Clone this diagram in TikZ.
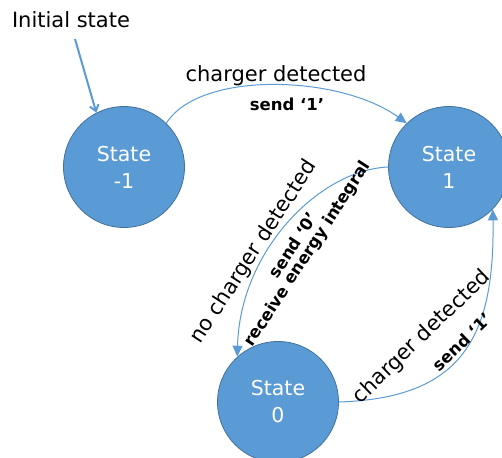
\documentclass[tikz,border=0pt]{standalone}
\usepackage{fontspec}
\setmainfont{DejaVu Sans}
\usetikzlibrary{arrows.meta}
\definecolor{stfill}{HTML}{5B9BD5}
\definecolor{stdraw}{HTML}{41719C}
\definecolor{arcblue}{HTML}{5B9BD5}
\begin{document}
\begin{tikzpicture}[x=1pt,y=-1pt,
 statenode/.style={circle, fill=stfill, draw=stdraw, line width=0.8pt, minimum size=121pt, inner sep=0pt, text=white, align=center, font=\fontsize{20.5}{27}\selectfont},
 lbl/.style={font=\fontsize{21}{25}\selectfont, inner sep=0pt},
 blbl/.style={font=\fontsize{16.5}{20}\selectfont\bfseries, inner sep=0pt},
 trans/.style={draw=arcblue, line width=1pt, -{Triangle[length=11pt,width=10pt]}},
]
\useasboundingbox (0,0) rectangle (502,457);
\clip (0,0) rectangle (502,457);
\fill[white] (0,0) rectangle (502,457);
\node[statenode] (sm) at (124,167) {State\\-1};
\node[statenode] (s1) at (449,167) {State\\1};
\node[statenode] (s0) at (278,402) {State\\0};
\node[lbl, anchor=base] (init) at (71,28) {Initial state};
\coordinate (istart) at (75,39);
\draw[line width=2pt, draw=arcblue, -{Straight Barb[length=6pt,width=9pt]}] (istart) -- (sm.117);
\draw[trans] (sm.46) .. controls (200,70) and (340,75) .. (s1.134);
\draw[trans] (s1.180) .. controls (320,170) and (240,250) .. (s0.132);
\draw[trans] (s0.0) .. controls (460,398) and (495,340) .. (s1.-44);
\node[lbl, anchor=base] (l1) at (276,82) {charger detected};
\node[blbl, anchor=base] (l1b) at (287,111) {send ‘1’};
\node[lbl, rotate=57] (l2) at (254,252) {no charger detected};
\node[blbl, rotate=57] (l2b) at (293,245) {send ‘0’};
\node[blbl, rotate=57] (l2c) at (308,254) {receive energy integral};
\node[lbl, rotate=44] (l3) at (422,337) {charger detected};
\node[blbl, rotate=44] (l3b) at (462,342) {send ‘1’};
\end{tikzpicture}
\end{document}
